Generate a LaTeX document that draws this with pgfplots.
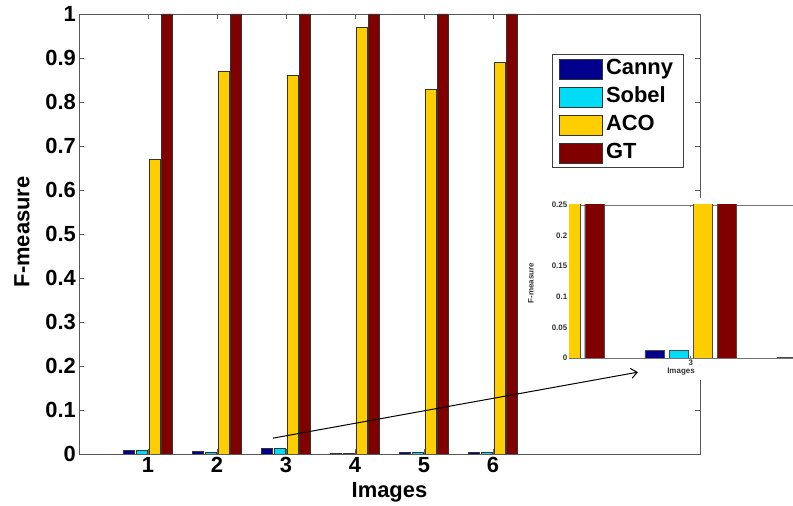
\documentclass[border=0pt]{standalone}
\usepackage{pgfplots}
\pgfplotsset{compat=1.18}
\usepackage{pgfplotstable}
\usepackage{fontspec}
\setmainfont{Liberation Sans}
\usetikzlibrary{arrows.meta}
\definecolor{cannyc}{RGB}{0,0,140}
\definecolor{sobelc}{RGB}{0,220,245}
\definecolor{acoc}{RGB}{255,206,0}
\definecolor{gtc}{RGB}{128,0,0}
\pgfplotstableread{
x canny sobel aco gt
1 0.008 0.0075 0.67 1
2 0.006 0.003 0.87 1
3 0.012 0.012 0.86 1
4 0.0015 0.0015 0.97 1
5 0.004 0.003 0.83 1
6 0.004 0.003 0.89 1
}\datatab
\begin{document}
\begin{tikzpicture}
\path[use as bounding box] (0bp,0bp) rectangle (793bp,506bp);
\begin{axis}[
  at={(79bp,52bp)}, anchor=south west,
  width=621bp, height=440bp, scale only axis,
  xmin=0, xmax=9, ymin=0, ymax=1,
  xtick={1,...,6}, ytick={0,0.1,...,1},
  scaled ticks=false,
  tick align=inside, major tick length=5bp,
  axis line style={draw=black!65, line width=0.8bp},
  tick style={draw=black!65, line width=0.8bp},
  /pgf/number format/assume math mode=true,
  ticklabel style={font=\fontsize{22}{22}\selectfont\bfseries, inner sep=3bp},
  label style={font=\fontsize{22}{22}\selectfont\bfseries},
  xlabel={Images}, ylabel={F-measure},
  xlabel style={at={(axis description cs:0.5,-0.086)}, anchor=center},
  ylabel style={at={(axis description cs:-0.092,0.505)}, anchor=center},
  legend style={at={(rel axis cs:0.7617,0.909)}, anchor=north west,
    draw=black!75, line width=0.8bp, inner xsep=7bp, inner ysep=3bp,
    font=\fontsize{22}{22}\selectfont\bfseries, row sep=5bp,
    nodes={inner xsep=3bp, inner ysep=2bp, text height=15bp, text depth=4bp}},
  legend cell align=left,
  legend image code/.code={\draw[#1, line width=0.6bp] (0bp,-10bp) rectangle (43bp,10bp);},
]
\addplot[ybar, bar width=0.16, bar shift=-0.276, fill=cannyc, draw=black!80, line width=0.5bp] table[x=x,y=canny] {\datatab};
\addplot[ybar, bar width=0.16, bar shift=-0.092, fill=sobelc, draw=black!80, line width=0.5bp] table[x=x,y=sobel] {\datatab};
\addplot[ybar, bar width=0.16, bar shift=0.092, fill=acoc, draw=black!80, line width=0.5bp] table[x=x,y=aco] {\datatab};
\addplot[ybar, bar width=0.16, bar shift=0.276, fill=gtc, draw=black!80, line width=0.5bp] table[x=x,y=gt] {\datatab};
\legend{Canny,Sobel,ACO,GT}
\coordinate (A) at (axis cs:2.81,0.036);
\coordinate (B) at (axis cs:8.10,0.186);
\end{axis}
\fill[white] (545bp,126bp) rectangle (793bp,308bp);
\begin{axis}[
  at={(569bp,148bp)}, anchor=south west,
  width=224bp, height=153bp, scale only axis,
  xmin=2.081, xmax=3.772, ymin=0, ymax=0.25,
  axis y line*=left,
  xtick={3}, ytick={0,0.05,0.1,0.15,0.2,0.25},
  yticklabels={0,0.05,0.1,0.15,0.2,0.25},
  scaled ticks=false,
  tick align=inside, major tick length=2bp,
  axis line style={draw=black!55, line width=0.6bp},
  tick style={draw=black!55, line width=0.5bp},
  /pgf/number format/assume math mode=true,
  ticklabel style={font=\fontsize{8}{8}\selectfont\bfseries, inner sep=1.5bp, text=black!80},
  label style={font=\fontsize{8}{8}\selectfont\bfseries, text=black!80},
  xlabel={Images}, ylabel={F-measure},
  xlabel style={at={(axis description cs:0.5,-0.09)}, anchor=center},
  ylabel style={at={(axis description cs:-0.17,0.49)}, anchor=center},
]
\addplot[ybar, bar width=0.147, bar shift=-0.273, fill=cannyc, draw=black!70, line width=0.4bp] table[x=x,y=canny] {\datatab};
\addplot[ybar, bar width=0.147, bar shift=-0.091, fill=sobelc, draw=black!70, line width=0.4bp] table[x=x,y=sobel] {\datatab};
\addplot[ybar, bar width=0.147, bar shift=0.091, fill=acoc, draw=black!70, line width=0.4bp] table[x=x,y=aco] {\datatab};
\addplot[ybar, bar width=0.147, bar shift=0.273, fill=gtc, draw=black!70, line width=0.4bp] table[x=x,y=gt] {\datatab};
\end{axis}
\draw[line width=1bp, -{Straight Barb[length=6bp,width=10bp]}] (A) -- (B);
\end{tikzpicture}
\end{document}
